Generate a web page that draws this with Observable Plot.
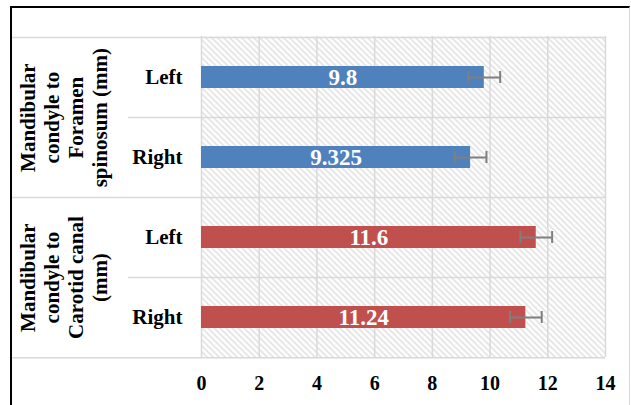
<!DOCTYPE html>
<html><head><meta charset="utf-8">
<script src="https://cdn.jsdelivr.net/npm/d3@7"></script>
<script src="https://cdn.jsdelivr.net/npm/@observablehq/plot@0.6"></script>
<style>
body{margin:0;background:#fff;}
#wrap{position:relative;width:631px;height:405px;overflow:hidden;}
#wrap svg{position:absolute;left:0;top:0;}
#border{position:absolute;left:10px;top:6px;width:617px;height:420px;border-left:2px solid #000;border-top:2px solid #000;border-right:1px solid #d9d9d9;pointer-events:none;}
</style></head><body><div id="wrap"><div id="border"></div></div>
<script>
const groupKeys = ["FS", "CC"];
const groupLabels = ["Mandibular\ncondyle to\nForamen\nspinosum (mm)", "Mandibular\ncondyle to\nCarotid canal\n(mm)"];
const rowGroups = ["FS", "FS", "CC", "CC"];
const rowSides = ["Left", "Right", "Left", "Right"];
const means = [9.8, 9.325, 11.6, 11.24];
const errors = [0.55, 0.55, 0.55, 0.55];
const valueLabels = ["9.8", "9.325", "11.6", "11.24"];
const barColors = ["#4F81BD", "#C0504D"];
const xTicks = [0, 2, 4, 6, 8, 10, 12, 14];

const W = 631, H = 405, mL = 201, mR = 26, mT = 36, mB = 48;
const rows = means.map((m, i) => ({
  key: rowGroups[i] + " " + rowSides[i], group: rowGroups[i], side: rowSides[i],
  mean: m, err: errors[i], label: valueLabels[i],
  first: i === 0 || rowGroups[i] !== rowGroups[i - 1], last: i === means.length - 1
}));
const sideOf = Object.fromEntries(rows.map(r => [r.key, r.side]));
const bw = (H - mT - mB) / rows.length;
const font = "'Liberation Serif', 'Times New Roman', serif";
const grid = "#d9d9d9";
const groupRows = groupKeys.map((g, i) => ({key: rows.find(r => r.group === g).key, text: groupLabels[i]}));

const chart = Plot.plot({
  width: W, height: H, marginLeft: mL, marginRight: mR, marginTop: mT, marginBottom: mB,
  style: {background: "transparent", fontFamily: font, color: "#000"},
  x: {domain: [0, 14]},
  y: {domain: rows.map(r => r.key), padding: 0},
  color: {domain: groupKeys, range: barColors},
  marks: [
    Plot.frame({fill: "url(#hatch)", stroke: null}),
    Plot.gridX(xTicks, {stroke: grid, strokeOpacity: 1, strokeWidth: 1.5}),
    Plot.ruleY(rows.filter(r => r.first), {y: "key", dy: -bw / 2, insetLeft: -190, stroke: grid, strokeWidth: 1.5}),
    Plot.ruleY(rows.filter(r => !r.first), {y: "key", dy: -bw / 2, insetLeft: -73, stroke: grid, strokeWidth: 1.5}),
    Plot.ruleY(rows.filter(r => r.last), {y: "key", dy: bw / 2, insetLeft: -190, stroke: grid, strokeWidth: 1.5}),
    Plot.barX(rows, {x: "mean", y: "key", fill: "group", insetTop: 29, insetBottom: 29}),
    Plot.ruleY(rows, {y: "key", x1: d => d.mean - d.err, x2: d => d.mean + d.err, stroke: "#7f7f7f", strokeWidth: 2}),
    Plot.tickX(rows, {x: d => d.mean - d.err, y: "key", insetTop: 34, insetBottom: 34, stroke: "#7f7f7f", strokeWidth: 2}),
    Plot.tickX(rows, {x: d => d.mean + d.err, y: "key", insetTop: 34, insetBottom: 34, stroke: "#7f7f7f", strokeWidth: 2}),
    Plot.text(rows, {x: d => d.mean / 2, y: "key", text: "label", fill: "white", fontSize: 23, fontWeight: "bold"}),
    Plot.axisY({tickSize: 0, tickPadding: 19, tickFormat: k => sideOf[k], fontSize: 21, fontWeight: "bold", label: null}),
    Plot.axisX({ticks: xTicks, tickSize: 0, tickPadding: 18, fontSize: 20, fontWeight: "bold", label: null}),
    Plot.text(groupRows, {y: "key", dy: bw / 2, frameAnchor: "left", dx: -138, rotate: -90, text: "text",
      lineHeight: 1.15, fontSize: 21, fontWeight: "bold", textAnchor: "middle"})
  ]
});

const ns = "http://www.w3.org/2000/svg";
const defs = document.createElementNS(ns, "defs");
const pat = document.createElementNS(ns, "pattern");
pat.setAttribute("id", "hatch");
pat.setAttribute("width", "6");
pat.setAttribute("height", "6");
pat.setAttribute("patternUnits", "userSpaceOnUse");
const bg = document.createElementNS(ns, "rect");
bg.setAttribute("width", "6"); bg.setAttribute("height", "6"); bg.setAttribute("fill", "#fff");
const p = document.createElementNS(ns, "path");
p.setAttribute("d", "M-1,-1L7,7M-1,5L1,7M5,-1L7,1");
p.setAttribute("stroke", "#d4d4d4");
p.setAttribute("stroke-width", "1.2");
pat.appendChild(bg); pat.appendChild(p); defs.appendChild(pat);
chart.insertBefore(defs, chart.firstChild);
document.getElementById("wrap").insertBefore(chart, document.getElementById("border"));
</script></body></html>
